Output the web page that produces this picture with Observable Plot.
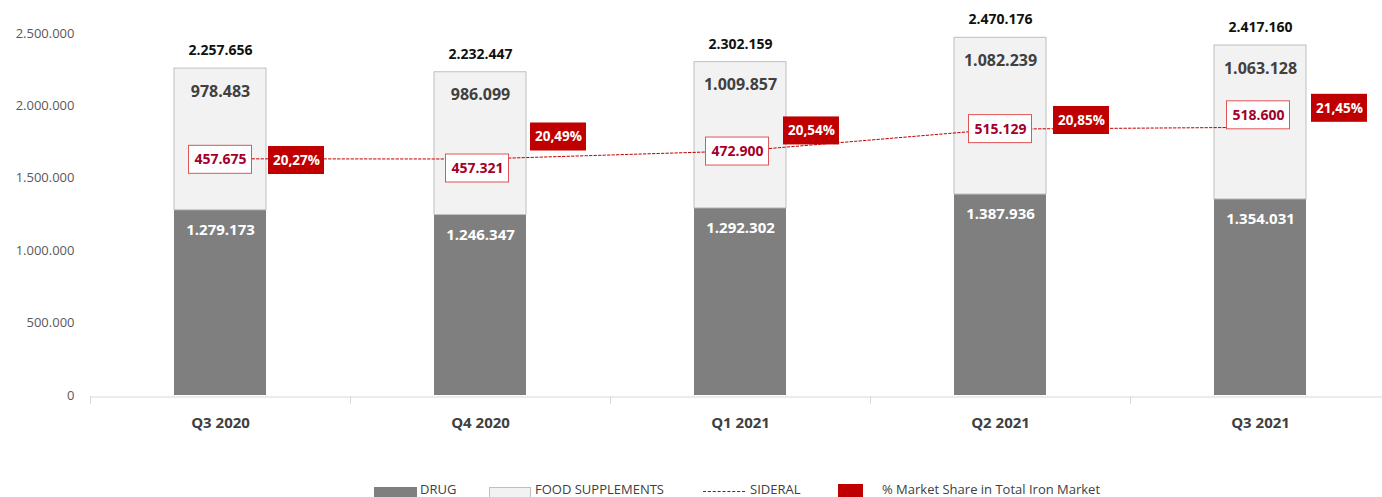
<!DOCTYPE html>
<html>
<head>
<meta charset="utf-8">
<script src="https://cdn.jsdelivr.net/npm/d3@7"></script>
<script src="https://cdn.jsdelivr.net/npm/@observablehq/plot@0.6"></script>
<style>
  body { margin: 0; background: #fff; font-family: "Open Sans", sans-serif; }
  #wrap { position: relative; width: 1382px; height: 497px; overflow: hidden; }
  #legend { position: relative; width: 1382px; height: 17px; font-size: 13px; color: #404040; }
  #legend .sw, #legend .tx { position: absolute; }
  #legend .tx { top: 2px; line-height: 14px; white-space: nowrap; }
</style>
</head>
<body>
<div id="wrap"></div>
<script>
// ---- data ----
const quarters = ["Q3 2020", "Q4 2020", "Q1 2021", "Q2 2021", "Q3 2021"];
const drug = [1279173, 1246347, 1292302, 1387936, 1354031];
const food = [978483, 986099, 1009857, 1082239, 1063128];
const totals = [2257656, 2232447, 2302159, 2470176, 2417160];
const sideral = [457675, 457321, 472900, 515129, 518600];
const marketShare = [20.27, 20.49, 20.54, 20.85, 21.45];
const yTicks = [0, 500000, 1000000, 1500000, 2000000, 2500000];
const seriesNames = ["DRUG", "FOOD SUPPLEMENTS", "SIDERAL", "% Market Share in Total Iron Market"];

// ---- scales / layout ----
const yMax = 2500000;
const sideralAxisMax = 700000; // secondary axis for SIDERAL
const sideralToY = v => v / sideralAxisMax * yMax;
// label nudges (pixels)
const sideralDx = [0, -3, -3, 0, -2];
const sideralDy = [1, 9.5, 0.6, 0, -12];
const shareDx = [76, 78, 71, 81, 79];
const shareDy = [1.7, -22, -20, -8.6, -19];

const locale = d3.formatLocale({decimal: ",", thousands: ".", grouping: [3], currency: ["", ""]});
const fmtInt = locale.format(",");
const fmtPct = v => locale.format(".2f")(v) + "%";

const rows = quarters.map((q, i) => ({
  q, i, drug: drug[i], food: food[i], total: totals[i], sideral: sideral[i], share: marketShare[i]
}));

const perLabel = rows.flatMap(d => {
  const sy = sideralToY(d.sideral);
  return [
    Plot.barY([d], {x: "q", y1: () => sy, y2: () => sy, insetTop: -14, insetBottom: -14,
      insetLeft: 14.5, insetRight: 14.5, fill: "white", stroke: "#e05555", strokeWidth: 1,
      dx: sideralDx[d.i], dy: sideralDy[d.i]}),
    Plot.text([d], {x: "q", y: () => sy, text: x => fmtInt(x.sideral), fill: "#a3002a",
      fontWeight: "bold", fontSize: 14, dx: sideralDx[d.i], dy: sideralDy[d.i]}),
    Plot.barY([d], {x: "q", y1: () => sy, y2: () => sy, insetTop: -14, insetBottom: -14,
      insetLeft: 18, insetRight: 18, fill: "#c00000",
      dx: shareDx[d.i], dy: shareDy[d.i]}),
    Plot.text([d], {x: "q", y: () => sy, text: x => fmtPct(x.share), fill: "white",
      fontWeight: "bold", fontSize: 13.5, dx: shareDx[d.i], dy: shareDy[d.i]})
  ];
});

const chart = Plot.plot({
  width: 1382,
  height: 470,
  marginTop: 33,
  marginBottom: 75,
  marginLeft: 90,
  marginRight: 0,
  style: {fontFamily: "'Open Sans', sans-serif", fontSize: "13px", color: "#595959", background: "white"},
  x: {domain: quarters, range: [90, 1390], paddingInner: 0.646, paddingOuter: 0.323, label: null},
  y: {domain: [0, yMax], label: null},
  marks: [
    Plot.axisY({ticks: yTicks, tickFormat: fmtInt, tickSize: 0, tickPadding: 16, fontSize: 13, fill: "#595959"}),
    Plot.ruleY([0], {stroke: "#d9d9d9", dy: 1.5}),
    Plot.axisX({ticks: quarters, tickSize: 8, tickFormat: () => "", dx: -130, dy: 1, stroke: "#d9d9d9"}),
    Plot.axisX({ticks: quarters, tickSize: 0, tickPadding: 22, fontSize: 15, fontWeight: "bold", fill: "#404040"}),
    Plot.barY(rows, {x: "q", y1: 0, y2: "drug", fill: "#7f7f7f"}),
    Plot.barY(rows, {x: "q", y1: "drug", y2: "total", fill: "#f2f2f2", stroke: "#bfbfbf", strokeWidth: 1}),
    Plot.text(rows, {x: "q", y: "total", text: d => fmtInt(d.total), dy: -18, fontSize: 14, fontWeight: "bold", fill: "#111"}),
    Plot.text(rows, {x: "q", y: "total", text: d => fmtInt(d.food), dy: 23, fontSize: 16, fontWeight: "bold", fill: "#404040"}),
    Plot.text(rows, {x: "q", y: "drug", text: d => fmtInt(d.drug), dy: 20, fontSize: 15, fontWeight: "bold", fill: "white"}),
    Plot.lineY(rows, {x: "q", y: d => sideralToY(d.sideral), stroke: "#c00000", strokeWidth: 1, strokeDasharray: "2.5,2"}),
    ...perLabel
  ]
});

const wrap = document.getElementById("wrap");
wrap.appendChild(chart);

const legend = document.createElement("div");
legend.id = "legend";
legend.style.marginTop = "10px";
legend.innerHTML = `
  <div class="sw" style="left:374px;top:7px;width:43px;height:10px;background:#7f7f7f"></div>
  <div class="tx" style="left:420px">${seriesNames[0]}</div>
  <div class="sw" style="left:489px;top:7px;width:42px;height:10px;background:#f2f2f2;border:1px solid #bfbfbf;border-bottom:none;box-sizing:border-box"></div>
  <div class="tx" style="left:535px">${seriesNames[1]}</div>
  <div class="sw" style="left:703px;top:11px;width:42px;height:0;border-top:1px dashed #c00000"></div>
  <div class="tx" style="left:750px">${seriesNames[2]}</div>
  <div class="sw" style="left:838px;top:4px;width:25px;height:13px;background:#c00000"></div>
  <div class="tx" style="left:882px">${seriesNames[3]}</div>`;
wrap.appendChild(legend);
</script>
</body>
</html>
